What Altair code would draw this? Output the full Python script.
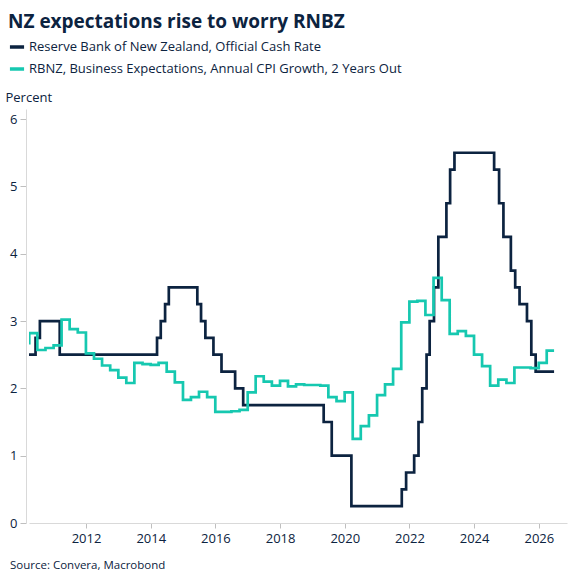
import altair as alt
import pandas as pd

# --- Series: RBNZ Official Cash Rate (decision dates and new rate, %) ---
OCR_DATES = [
    "2010-03-01", "2010-06-10", "2010-07-29", "2011-03-10", "2014-03-13",
    "2014-04-24", "2014-06-12", "2014-07-24", "2015-06-11", "2015-07-23",
    "2015-09-10", "2015-12-10", "2016-03-10", "2016-08-11", "2016-11-10",
    "2019-05-08", "2019-08-07", "2020-03-16", "2021-10-06", "2021-11-24",
    "2022-02-23", "2022-04-13", "2022-05-25", "2022-07-13", "2022-08-17",
    "2022-10-05", "2022-11-23", "2023-02-22", "2023-04-05", "2023-05-24",
    "2024-08-14", "2024-10-09", "2024-11-27", "2025-02-19", "2025-04-09",
    "2025-05-28", "2025-08-20", "2025-10-08", "2025-11-26",
]
OCR_RATES = [
    2.50, 2.75, 3.00, 2.50, 2.75,
    3.00, 3.25, 3.50, 3.25, 3.00,
    2.75, 2.50, 2.25, 2.00, 1.75,
    1.50, 1.00, 0.25, 0.50, 0.75,
    1.00, 1.50, 2.00, 2.50, 3.00,
    3.50, 4.25, 4.75, 5.25, 5.50,
    5.25, 4.75, 4.25, 3.75, 3.50,
    3.25, 3.00, 2.50, 2.25,
]

# --- Series: business expectations of annual CPI inflation two years out (quarterly, %) ---
CPI_EXP_QUARTERS = pd.date_range("2009-12-31", "2026-03-31", freq="QE").strftime("%Y-%m-%d").tolist()
CPI_EXP_VALUES = [
    2.67,                                  # 2009 Q4
    2.82, 2.57, 2.60, 2.64,                # 2010
    3.02, 2.88, 2.83, 2.52,                # 2011
    2.44, 2.34, 2.27, 2.16,                # 2012
    2.08, 2.38, 2.36, 2.35,                # 2013
    2.38, 2.25, 2.09, 1.83,                # 2014
    1.87, 1.95, 1.87, 1.65,                # 2015
    1.65, 1.66, 1.68, 1.94,                # 2016
    2.18, 2.10, 2.04, 2.11,                # 2017
    2.03, 2.06, 2.05, 2.05,                # 2018
    2.04, 1.87, 1.81, 1.94,                # 2019
    1.25, 1.44, 1.60, 1.90,                # 2020
    2.06, 2.29, 2.98, 3.29,                # 2021
    3.30, 3.09, 3.64, 3.31,                # 2022
    2.81, 2.85, 2.78, 2.50,                # 2023
    2.33, 2.04, 2.13, 2.08,                # 2024
    2.31, 2.31, 2.30, 2.38,                # 2025
    2.56,                                  # 2026 Q1
]

# Latest observation is carried to the end of the sample
SERIES_END = "2026-06-22"

OCR_NAME = "Reserve Bank of New Zealand, Official Cash Rate"
CPI_NAME = "RBNZ, Business Expectations, Annual CPI Growth, 2 Years Out"
TITLE = "NZ expectations rise to worry RNBZ"
SOURCE = "Source: Convera, Macrobond"

Y_TICKS = [0, 1, 2, 3, 4, 5, 6]
X_TICK_YEARS = [2012, 2014, 2016, 2018, 2020, 2022, 2024, 2026]

NAVY = "#0c2340"
TEAL = "#16c8b0"
FONT = "Open Sans"


def step_frame(dates, values, name):
    return pd.DataFrame({
        "date": list(dates) + [SERIES_END],
        "value": list(values) + [values[-1]],
        "series": name,
    })


data = pd.concat([
    step_frame(OCR_DATES, OCR_RATES, OCR_NAME),
    step_frame(CPI_EXP_QUARTERS, CPI_EXP_VALUES, CPI_NAME),
], ignore_index=True)

x_axis = alt.Axis(
    title=None,
    format="%Y",
    values=[alt.DateTime(year=y, month=1, date=1) for y in X_TICK_YEARS],
    labelFontSize=13,
    labelPadding=4,
    tickSize=5,
    grid=False,
)
y_axis = alt.Axis(
    values=Y_TICKS,
    title="Percent",
    titleAngle=0,
    titleAlign="left",
    titleBaseline="alphabetic",
    titleX=-21,
    titleY=-8,
    titleFontSize=13,
    titleFontWeight="normal",
    titleColor=NAVY,
    titleFont=FONT,
    labelFontSize=13,
    labelPadding=3,
    tickSize=6,
    offset=3,
    grid=False,
)

lines = alt.Chart(data).mark_line(
    interpolate="step-after", strokeWidth=2.7, clip=True
).encode(
    x=alt.X(
        "date:T",
        scale=alt.Scale(domain=[alt.DateTime(year=2010, month=3, date=28),
                                alt.DateTime(year=2026, month=11, date=15)]),
        axis=x_axis,
    ),
    y=alt.Y("value:Q", scale=alt.Scale(domain=[0, 6.15], nice=False), axis=y_axis),
    color=alt.Color(
        "series:N",
        scale=alt.Scale(domain=[OCR_NAME, CPI_NAME], range=[NAVY, TEAL]),
        legend=alt.Legend(
            title=None,
            orient="none",
            legendX=-21,
            legendY=-71,
            direction="vertical",
            symbolType="stroke",
            symbolStrokeWidth=3.5,
            symbolSize=200,
            labelFontSize=13,
            labelFont=FONT,
            labelColor=NAVY,
            labelLimit=700,
            labelOffset=3,
            rowPadding=6,
            padding=0,
        ),
    ),
    detail="series:N",
)

title = alt.Chart(pd.DataFrame({"t": [TITLE]})).mark_text(
    align="left", baseline="alphabetic", font=FONT, fontSize=19,
    fontWeight="bold", color=NAVY,
).encode(text="t:N", x=alt.value(-21), y=alt.value(-81))

source = alt.Chart(pd.DataFrame({"t": [SOURCE]})).mark_text(
    align="left", baseline="alphabetic", font=FONT, fontSize=11.5, color=NAVY,
).encode(text="t:N", x=alt.value(-19), y=alt.value(460))

chart = alt.layer(lines, title, source).properties(
    width=538,
    height=414,
    padding={"left": 29, "top": 109, "right": 15, "bottom": 61},
    autosize="none",
).configure_view(
    stroke=None
).configure_axis(
    domainColor="#d9d9d9",
    tickColor="#bfbfbf",
    labelColor=NAVY,
    labelFont=FONT,
)

chart.save("out.html", embed_options={"renderer": "svg", "actions": False})
